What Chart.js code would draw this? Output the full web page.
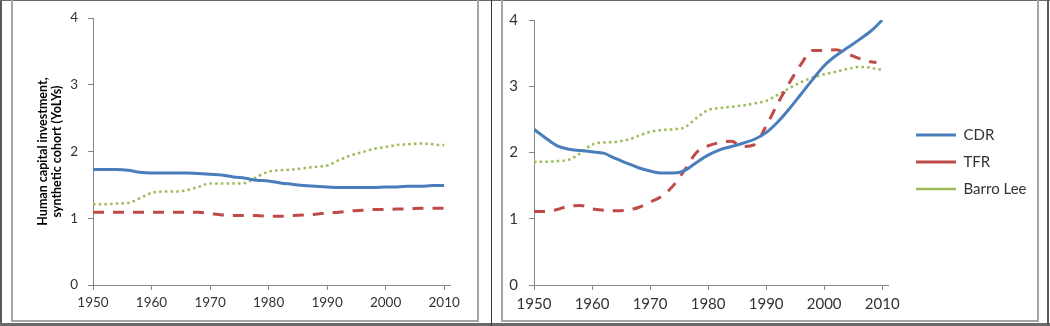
<!DOCTYPE html>
<html>
<head>
<meta charset="utf-8">
<script src="https://cdn.jsdelivr.net/npm/chart.js@4.4.1/dist/chart.umd.min.js"></script>
<style>
html,body{margin:0;padding:0;background:#fff;}
body{width:1050px;height:326px;position:relative;overflow:hidden;}
.ln{position:absolute;box-sizing:content-box;}
canvas{position:absolute;top:0;}
</style>
</head>
<body>
<div class="ln" style="left:0;top:0;width:2px;height:326px;background:#5a5a5a"></div>
<div class="ln" style="left:0;top:0;width:1050px;height:1px;background:#6a6a6a"></div>
<div class="ln" style="left:0;top:323px;width:1050px;height:3px;background:#6a6a6a"></div>
<div class="ln" style="left:491px;top:0;width:1px;height:326px;background:#333"></div>
<div class="ln" style="left:1047px;top:0;width:2px;height:326px;background:#5a5a5a"></div>
<div class="ln" style="left:11px;top:-3px;width:464px;height:321px;border:2px solid #a6a6a6"></div>
<div class="ln" style="left:501px;top:-3px;width:534px;height:321px;border:2px solid #a6a6a6"></div>
<canvas id="left" width="464" height="320" style="left:13px"></canvas>
<canvas id="right" width="534" height="320" style="left:503px"></canvas>
<script>
// ---- data ----
const years = [1950,1952,1954,1956,1958,1960,1962,1964,1966,1968,1970,1972,1974,1976,1978,1980,1982,1984,1986,1988,1990,1992,1994,1996,1998,2000,2002,2004,2006,2008,2009,2010];
const seriesNames = ['CDR', 'TFR', 'Barro Lee'];
const leftCDR = [1.73,1.73,1.73,1.72,1.69,1.68,1.68,1.68,1.68,1.67,1.66,1.65,1.62,1.60,1.57,1.56,1.53,1.51,1.49,1.48,1.47,1.46,1.46,1.46,1.46,1.47,1.47,1.48,1.48,1.49,1.49,1.49];
const leftTFR = [1.09,1.09,1.09,1.09,1.09,1.09,1.09,1.09,1.09,1.09,1.07,1.05,1.04,1.04,1.04,1.03,1.03,1.04,1.05,1.06,1.08,1.09,1.11,1.12,1.13,1.13,1.14,1.14,1.15,1.15,1.15,1.15];
const leftBarroLee = [1.21,1.21,1.22,1.23,1.30,1.38,1.40,1.40,1.42,1.47,1.52,1.52,1.52,1.53,1.62,1.70,1.72,1.73,1.75,1.77,1.79,1.87,1.94,1.99,2.04,2.07,2.10,2.11,2.12,2.11,2.10,2.10];
const rightCDR = [2.35,2.22,2.10,2.05,2.03,2.01,1.99,1.91,1.84,1.77,1.72,1.69,1.69,1.73,1.85,1.96,2.04,2.09,2.14,2.20,2.30,2.46,2.66,2.88,3.10,3.31,3.46,3.58,3.70,3.83,3.91,4.00];
const rightTFR = [1.11,1.11,1.14,1.19,1.20,1.15,1.13,1.12,1.13,1.17,1.25,1.34,1.50,1.74,2.00,2.10,2.15,2.17,2.09,2.12,2.40,2.74,3.05,3.33,3.54,3.54,3.55,3.49,3.42,3.37,3.36,null];
const rightBarroLee = [1.86,1.86,1.87,1.89,1.99,2.12,2.15,2.16,2.19,2.25,2.31,2.34,2.35,2.38,2.52,2.64,2.67,2.69,2.71,2.74,2.78,2.87,2.97,3.06,3.13,3.18,3.22,3.26,3.29,3.28,3.26,3.25];
const xTicks = [1950,1960,1970,1980,1990,2000,2010];
const yTicks = [0,1,2,3,4];
const yTitle = ['Human capital investment,', 'synthetic cohort (YoLYs)'];

// ---- styles ----
const FONT = 'Lato, "Open Sans", sans-serif';
const AXIS = '#868686';
const TEXT = '#333333';
const styles = [
  {borderColor:'#4A7EBB', borderWidth:3, borderDash:[]},
  {borderColor:'#BE4B48', borderWidth:3, borderDash:[11,9]},
  {borderColor:'#9BBB59', borderWidth:2.5, borderDash:[2.5,3.2]}
];

function makeDatasets(arrs){
  return arrs.map((arr, k) => Object.assign({
    label: seriesNames[k],
    data: years.map((yr, i) => ({x: yr, y: arr[i]})),
    pointRadius: 0,
    pointHoverRadius: 0,
    fill: false,
    cubicInterpolationMode: 'monotone',
    spanGaps: false,
    borderCapStyle: 'butt'
  }, styles[k]));
}

function scales(fontSize, yWidth, yPad, withTitle){
  return {
    x: {
      type: 'linear', min: 1950, max: 2011,
      afterBuildTicks: s => { s.ticks = xTicks.map(v => ({value: v})); },
      afterFit: s => { s.height = 35; },
      ticks: {callback: v => String(v), font: {family: FONT, size: fontSize}, color: TEXT, padding: 5, maxRotation: 0, autoSkip: false},
      grid: {drawOnChartArea: false, drawTicks: true, tickLength: 5, color: AXIS},
      border: {display: true, color: AXIS, width: 1}
    },
    y: {
      min: 0, max: 4,
      afterBuildTicks: s => { s.ticks = yTicks.map(v => ({value: v})); },
      afterFit: s => { s.width = yWidth; },
      ticks: {font: {family: FONT, size: fontSize}, color: TEXT, padding: yPad},
      grid: {drawOnChartArea: false, drawTicks: true, tickLength: 5, color: AXIS},
      border: {display: true, color: AXIS, width: 1},
      title: {display: withTitle, text: yTitle, color: '#000', font: {family: FONT, size: 12.5, weight: 'bold', lineHeight: 1.12}, padding: {top: 23, bottom: 0}}
    }
  };
}

const legendPlacer = {
  id: 'legendPlacer',
  afterLayout(chart, args, opts) {
    const l = chart.legend;
    if (!l || opts.x === undefined) return;
    const w = l.width, h = l.height;
    l.left = opts.x; l.top = opts.y; l.right = opts.x + w; l.bottom = opts.y + h;
  }
};

function draw(){
  new Chart(document.getElementById('left'), {
    type: 'line',
    data: {datasets: makeDatasets([leftCDR, leftTFR, leftBarroLee])},
    options: {
      responsive: false, animation: false, devicePixelRatio: 1,
      layout: {padding: {top: 18, right: 27, bottom: 0, left: 0}},
      plugins: {legend: {display: false}, tooltip: {enabled: false}},
      scales: scales(13.5, 80, 10, true)
    }
  });
  new Chart(document.getElementById('right'), {
    type: 'line',
    data: {datasets: makeDatasets([rightCDR, rightTFR, rightBarroLee])},
    options: {
      responsive: false, animation: false, devicePixelRatio: 1,
      layout: {padding: {top: 18, right: 149, bottom: 0, left: 0}},
      plugins: {
        tooltip: {enabled: false},
        legend: {
          display: true, position: 'chartArea', align: 'start',
          labels: {usePointStyle: true, pointStyle: 'line', pointStyleWidth: 40, boxWidth: 40, padding: 12,
                   font: {family: FONT, size: 15}, color: TEXT}
        },
        legendPlacer: {x: 401, y: 115.5}
      },
      scales: scales(15, 31, 11, false)
    },
    plugins: [legendPlacer]
  });
}

if (document.fonts && document.fonts.load) {
  Promise.all([document.fonts.load('13px Lato'), document.fonts.load('bold 13px Lato')]).then(draw, draw);
} else { draw(); }
</script>
</body>
</html>
